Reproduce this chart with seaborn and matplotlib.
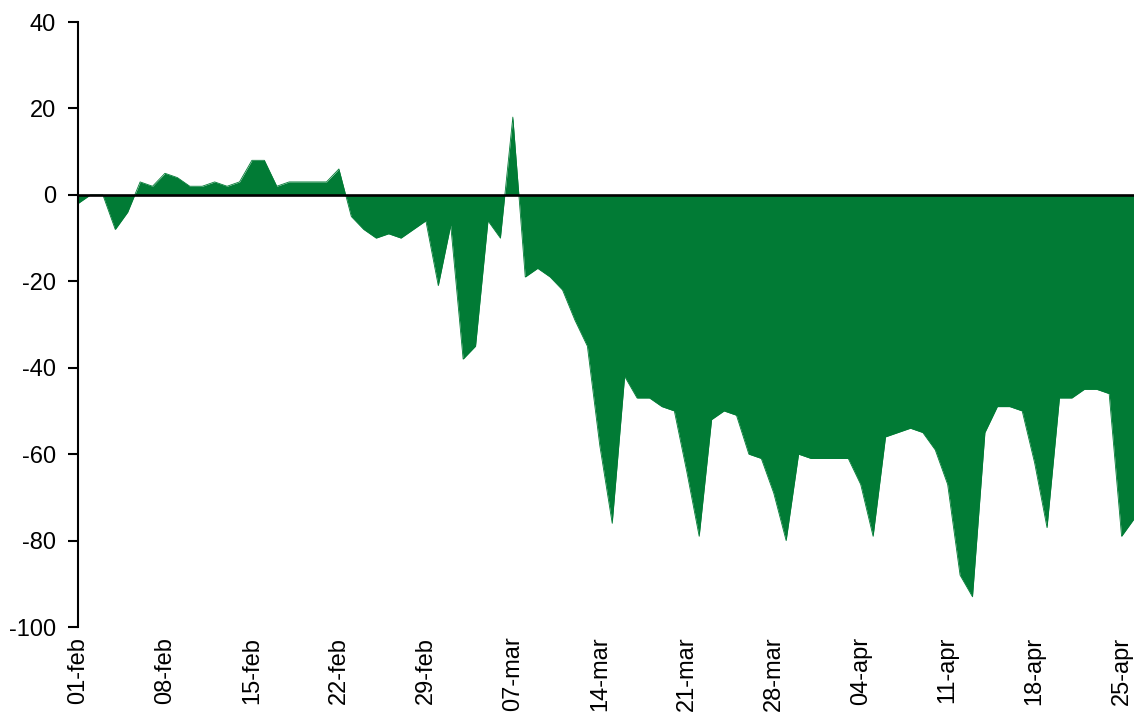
import matplotlib
matplotlib.use("Agg")
import matplotlib.pyplot as plt
import pandas as pd
import seaborn as sns

# daily values, 01-feb .. 26-apr (the last day is cut at the right edge)
values = [-2, 0, 0, -8, -4, 3, 2, 5, 4, 2,
          2, 3, 2, 3, 8, 8, 2, 3, 3, 3,
          3, 6, -5, -8, -10, -9, -10, -8, -6, -21,
          -7, -38, -35, -6, -10, 18, -19, -17, -19, -22,
          -29, -35, -58, -76, -42, -47, -47, -49, -50, -64,
          -79, -52, -50, -51, -60, -61, -69, -80, -60, -61,
          -61, -61, -61, -67, -79, -56, -55, -54, -55, -59,
          -67, -88, -93, -55, -49, -49, -50, -62, -77, -47,
          -47, -45, -45, -46, -79, -75]
dates = pd.date_range("2020-02-01", periods=len(values), freq="D")
tick_dates = pd.date_range("2020-02-01", "2020-04-25", freq="7D")
tick_labels = ["01-feb", "08-feb", "15-feb", "22-feb", "29-feb", "07-mar", "14-mar",
               "21-mar", "28-mar", "04-apr", "11-apr", "18-apr", "25-apr"]
yticks = [40, 20, 0, -20, -40, -60, -80, -100]

green = "#017B35"

sns.set_style("white")
plt.rcParams['font.family'] = ['Liberation Sans', 'DejaVu Sans']

df = pd.DataFrame({"date": dates, "value": values})

fig = plt.figure(figsize=(11.34, 7.13), dpi=100)
ax = fig.add_axes([78 / 1134, 0.1206, 1 - 78 / 1134, 0.8485])

ax.fill_between(df["date"], 0, df["value"], color=green, linewidth=0)
sns.lineplot(data=df, x="date", y="value", color=green, linewidth=0.6, ax=ax)
ax.axhline(0, color="black", linewidth=1.9, zorder=3)

ax.set_xlim(dates[0], dates[-1])
ax.set_ylim(-100, 40)
ax.set_yticks(yticks)
ax.set_yticklabels([str(v) for v in yticks], fontsize=17)
ax.set_xticks(tick_dates)
ax.set_xticklabels(tick_labels, rotation=90, fontsize=17, va="top")

for s in ["top", "right", "bottom"]:
    ax.spines[s].set_visible(False)
ax.spines["left"].set_color("black")
ax.spines["left"].set_linewidth(1.5)
ax.tick_params(axis="y", direction="out", length=7, width=1.5, color="black",
               labelcolor="black", pad=9, left=True)
ax.tick_params(axis="x", length=0, pad=7, labelcolor="black")
ax.set_xlabel("")
ax.set_ylabel("")

plt.savefig("out.png", dpi=100)
